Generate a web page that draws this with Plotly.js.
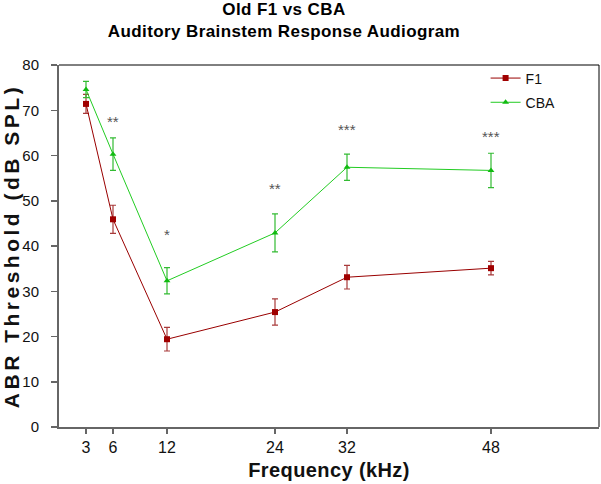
<!DOCTYPE html>
<html>
<head>
<meta charset="utf-8">
<script src="https://cdn.plot.ly/plotly-3.0.1.min.js"></script>
<style>
html,body{margin:0;padding:0;background:#fff;}
#chart{width:601px;height:484px;}
.ytitle{letter-spacing:3.5px;}
.gtitle{letter-spacing:0.4px;}
.xtitle{letter-spacing:0.4px;}
</style>
</head>
<body>
<div id="chart"></div>
<script>
const freqs = [3, 6, 12, 24, 32, 48];
const f1Values = [71.4, 45.9, 19.4, 25.4, 33.1, 35.1];
const f1Errors = [2.1, 3.1, 2.6, 2.9, 2.6, 1.5];
const cbaValues = [74.6, 60.3, 32.3, 42.9, 57.4, 56.7];
const cbaErrors = [1.8, 3.6, 2.9, 4.2, 2.9, 3.8];
const sigFreqs = [6, 12, 24, 32, 48];
const sigLabels = ['**', '*', '**', '***', '***'];
const sigY = [67.6, 42.6, 52.6, 65.7, 64.1];
const yTicks = [0, 10, 20, 30, 40, 50, 60, 70, 80];

const traces = [
  {
    x: freqs, y: f1Values, name: 'F1', type: 'scatter', mode: 'lines+markers', legendgroup: 'a',
    line: {color: '#990000', width: 1},
    marker: {symbol: 'square', size: 6, color: '#a00000'},
    error_y: {type: 'data', array: f1Errors, visible: true, color: '#a83a3a', thickness: 1.2, width: 3}
  },
  {
    x: freqs, y: cbaValues, name: 'CBA', type: 'scatter', mode: 'lines+markers', legendgroup: 'b',
    line: {color: '#22cc22', width: 1},
    marker: {symbol: 'triangle-up', size: 6, color: '#11bb11'},
    error_y: {type: 'data', array: cbaErrors, visible: true, color: '#33bb33', thickness: 1.2, width: 3}
  }
];

const annotations = sigFreqs.map((f, i) => ({
  x: f, y: sigY[i], xref: 'x', yref: 'y', text: sigLabels[i], showarrow: false,
  font: {family: 'Liberation Sans, Arial', size: 15, color: '#555555'}
}));

const layout = {
  width: 601, height: 484,
  margin: {l: 59, r: 2, t: 65, b: 57},
  paper_bgcolor: '#ffffff', plot_bgcolor: '#ffffff',
  font: {family: 'Liberation Sans, Arial', color: '#111111'},
  title: {
    text: '<b>Old F1 vs CBA</b><br><b>Auditory Brainstem Response Audiogram</b>',
    x: 0.4725, xref: 'container', xanchor: 'center',
    y: 0.969, yref: 'container', yanchor: 'top',
    font: {family: 'Liberation Sans, Arial', size: 17, color: '#000000'}
  },
  xaxis: {
    range: [0, 60], tickmode: 'array', tickvals: freqs, ticktext: freqs.map(String),
    ticks: 'outside', ticklen: 5, tickcolor: '#666666', tickwidth: 1.5,
    showline: true, linecolor: '#666666', linewidth: 2, showgrid: false, zeroline: false,
    tickfont: {size: 16, color: '#111111'},
    title: {text: '<b>Frequency (kHz)</b>', font: {size: 20, color: '#111111'}, standoff: 8}
  },
  yaxis: {
    range: [0, 80], tickmode: 'array', tickvals: yTicks,
    ticks: 'outside', ticklen: 6, tickcolor: '#666666', tickwidth: 1.5,
    showline: true, linecolor: '#666666', linewidth: 2, showgrid: false, zeroline: false,
    ticklabelstandoff: 9,
    tickfont: {size: 15, color: '#111111'},
    title: {text: '<b>ABR Threshold (dB SPL)</b>', font: {size: 21, color: '#111111'}, standoff: 5}
  },
  shapes: [
    {type: 'line', xref: 'paper', yref: 'paper', x0: 0, x1: 1, y0: 1, y1: 1, line: {color: '#000000', width: 1}},
    {type: 'line', xref: 'paper', yref: 'paper', x0: 1, x1: 1, y0: 0, y1: 1, line: {color: '#000000', width: 1}}
  ],
  legend: {
    x: 0.79, y: 1.007, xanchor: 'left', yanchor: 'top', traceorder: 'grouped',
    bgcolor: 'rgba(0,0,0,0)', font: {size: 14, color: '#111111'},
    tracegroupgap: 3
  },
  annotations: annotations
};

Plotly.newPlot('chart', traces, layout, {staticPlot: true, displayModeBar: false});
</script>
</body>
</html>
